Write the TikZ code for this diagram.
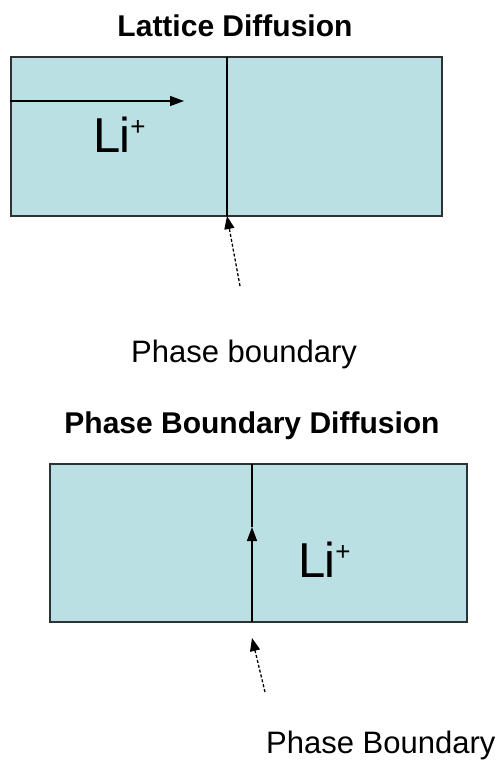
\documentclass[tikz,border=0pt]{standalone}
\usepackage{fontspec}
\setmainfont{Liberation Sans}
\usepackage{xcolor}
\usetikzlibrary{arrows.meta,positioning}
\definecolor{cellcyan}{RGB}{187,224,228}
\definecolor{edgegray}{RGB}{45,50,52}
\newcommand{\lion}{L\kern-1pt i\raisebox{17pt}{\fontsize{26}{28}\selectfont +}}

\begin{document}
\begin{tikzpicture}[
    x=1pt,y=-1pt,
    title/.style={font=\fontsize{30}{34}\selectfont\bfseries,inner sep=0pt,anchor=base},
    ion/.style={font=\fontsize{49}{52}\selectfont,inner sep=0pt,anchor=base west},
    caption/.style={font=\fontsize{31}{36}\selectfont,inner sep=0pt},
    cell/.style={rectangle,draw=edgegray,fill=cellcyan,line width=1.8pt,inner sep=0pt},
    bound/.style={draw=black,line width=1.4pt},
    flux/.style={-{Triangle[length=14pt,width=10pt]},line width=1.4pt},
    pointer/.style={-{Triangle[length=13pt,width=10pt]},dashed,dash pattern=on 3pt off 2pt,line width=1.3pt}
  ]
    \clip (0,0) rectangle (503,762);
    \fill[white] (0,0) rectangle (503,762);

    % lattice diffusion
    \node[title] (t1) at (235,37) {Lattice Diffusion};
    \node[cell,minimum width=431pt,minimum height=159pt] (box1) at (226.5,136.5) {};
    \coordinate (b1top) at (227,57);
    \coordinate (b1bot) at (227,216);
    \draw[bound] (b1top) -- (b1bot);
    \coordinate (f1start) at (box1.west |- 0,101);
    \coordinate (f1end) at (184,101);
    \draw[flux] (f1start) -- (f1end);
    \node[ion] (li1) at (93,153) {\lion};
    \coordinate (p1tail) at (240,286);
    \draw[pointer] (p1tail) -- (b1bot);
    \node[caption,anchor=base] (c1) at (244,362) {Phase boundary};

    % phase boundary diffusion
    \node[title] (t2) at (252,433) {Phase Boundary Diffusion};
    \node[cell,minimum width=417pt,minimum height=158pt] (box2) at (258.5,543) {};
    \coordinate (b2top) at (252,464);
    \coordinate (b2bot) at (252,622);
    \coordinate (f2end) at (252,527);
    \draw[bound] (b2top) -- (f2end);
    \draw[flux] (b2bot) -- (f2end);
    \node[ion] (li2) at (298,577) {\lion};
    \coordinate (p2tail) at (265,692);
    \coordinate (p2tip) at (252,638);
    \draw[pointer] (p2tail) -- (p2tip);
    \node[caption,anchor=base west] (c2) at (266,753) {Phase Boundary};
  \end{tikzpicture}
\end{document}
